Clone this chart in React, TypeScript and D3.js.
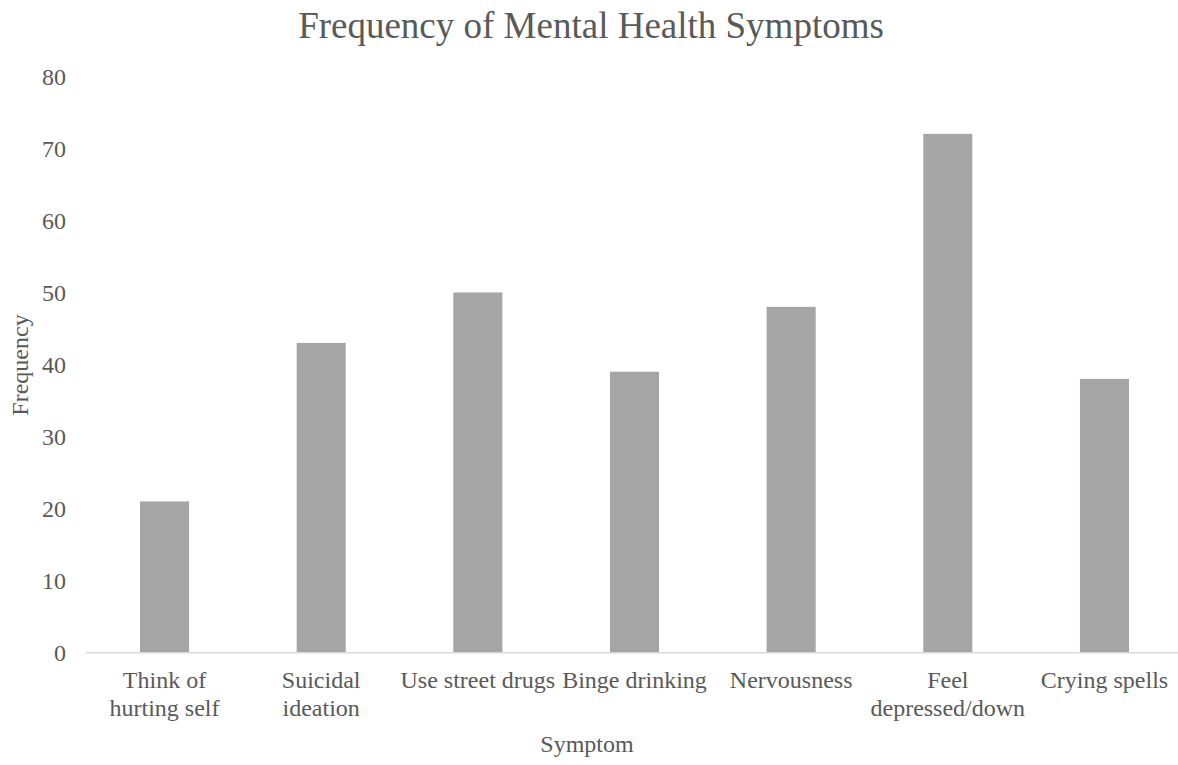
import React from "react";
import * as d3 from "d3";

const categories = [
  "Think of hurting self",
  "Suicidal ideation",
  "Use street drugs",
  "Binge drinking",
  "Nervousness",
  "Feel depressed/down",
  "Crying spells",
];
const categoryLines = [
  ["Think of", "hurting self"],
  ["Suicidal", "ideation"],
  ["Use street drugs"],
  ["Binge drinking"],
  ["Nervousness"],
  ["Feel", "depressed/down"],
  ["Crying spells"],
];
const frequency = [21, 43, 50, 39, 48, 72, 38];
const yTicks = [0, 10, 20, 30, 40, 50, 60, 70, 80];

const W = 1178;
const H = 765;
const FONT = "'Liberation Serif', 'Times New Roman', serif";
const TEXT = "#595959";

export default function App() {
  const x = d3
    .scaleBand<string>()
    .domain(categories)
    .range([86.2, 1182.8])
    .paddingInner(0.687)
    .paddingOuter(0.3435);
  const y = d3.scaleLinear().domain([0, 80]).range([652.8, 76.2]);

  return (
    <svg
      width={W}
      height={H}
      style={{ position: "absolute", left: 0, top: 0, background: "#fff" }}
      fontFamily={FONT}
    >
      <rect width={W} height={H} fill="#fff" />
      <text x={591} y={38} textAnchor="middle" fontSize={37} fill={TEXT}>
        Frequency of Mental Health Symptoms
      </text>

      {yTicks.map((t) => (
        <text
          key={t}
          x={66}
          y={y(t)}
          dy="0.35em"
          textAnchor="end"
          fontSize={24}
          fill={TEXT}
        >
          {t}
        </text>
      ))}

      {categories.map((c, i) => (
        <rect
          key={c}
          x={x(c)}
          y={y(frequency[i])}
          width={x.bandwidth()}
          height={y(0) - y(frequency[i])}
          fill="#A5A5A5"
        />
      ))}

      <line
        x1={86.2}
        x2={1182.8}
        y1={y(0)}
        y2={y(0)}
        stroke="#D9D9D9"
        strokeWidth={1.5}
      />

      {categories.map((c, i) => (
        <text
          key={c}
          x={(x(c) as number) + x.bandwidth() / 2}
          y={688}
          textAnchor="middle"
          fontSize={24}
          fill={TEXT}
        >
          {categoryLines[i].map((line, j) => (
            <tspan key={j} x={(x(c) as number) + x.bandwidth() / 2} dy={j === 0 ? 0 : 27.5}>
              {line}
            </tspan>
          ))}
        </text>
      ))}

      <text x={587} y={752} textAnchor="middle" fontSize={24} fill={TEXT}>
        Symptom
      </text>
      <text
        transform="translate(28,365) rotate(-90)"
        textAnchor="middle"
        fontSize={24}
        fill={TEXT}
      >
        Frequency
      </text>
    </svg>
  );
}
